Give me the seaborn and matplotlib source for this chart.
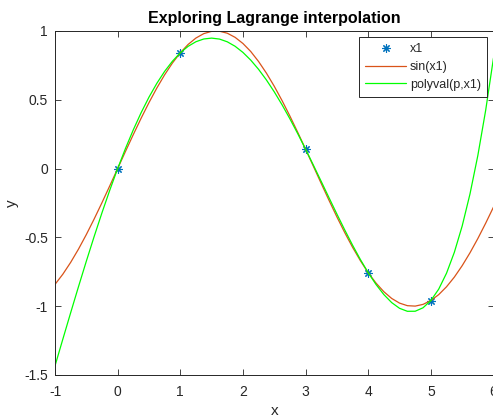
import numpy as np
import pandas as pd
import seaborn as sns
import matplotlib.pyplot as plt

# interpolation nodes and their values
x1 = [0, 1, 3, 4, 5]
y1 = [0.0, 0.8415, 0.1411, -0.7568, -0.9589]

# curve samples (step 0.125 from -1 to 6)
xs = [-1.0, -0.875, -0.75, -0.625, -0.5, -0.375, -0.25, -0.125,
      0.0, 0.125, 0.25, 0.375, 0.5, 0.625, 0.75, 0.875,
      1.0, 1.125, 1.25, 1.375, 1.5, 1.625, 1.75, 1.875,
      2.0, 2.125, 2.25, 2.375, 2.5, 2.625, 2.75, 2.875,
      3.0, 3.125, 3.25, 3.375, 3.5, 3.625, 3.75, 3.875,
      4.0, 4.125, 4.25, 4.375, 4.5, 4.625, 4.75, 4.875,
      5.0, 5.125, 5.25, 5.375, 5.5, 5.625, 5.75, 5.875, 6.0]
sin_vals = [-0.8415, -0.7675, -0.6816, -0.5851, -0.4794, -0.3663, -0.2474, -0.1247,
            0.0, 0.1247, 0.2474, 0.3663, 0.4794, 0.5851, 0.6816, 0.7675,
            0.8415, 0.9023, 0.9490, 0.9809, 0.9975, 0.9985, 0.9840, 0.9539,
            0.9093, 0.8509, 0.7781, 0.6937, 0.5985, 0.4939, 0.3817, 0.2634,
            0.1411, 0.0166, -0.1082, -0.2313, -0.3508, -0.4648, -0.5716, -0.6692,
            -0.7568, -0.8323, -0.8950, -0.9437, -0.9775, -0.9962, -0.9993, -0.9868,
            -0.9589, -0.9160, -0.8589, -0.7885, -0.7055, -0.6116, -0.5083, -0.3969,
            -0.2794]
poly_vals = [-1.4335, -1.2397, -1.0474, -0.8580, -0.6730, -0.4935, -0.3208, -0.1560,
             0.0, 0.1463, 0.2820, 0.4064, 0.5190, 0.6192, 0.7066, 0.7807,
             0.8415, 0.8886, 0.9221, 0.9420, 0.9483, 0.9414, 0.9215, 0.8890,
             0.8444, 0.7882, 0.7212, 0.6442, 0.5579, 0.4634, 0.3616, 0.2538,
             0.1411, 0.0249, -0.0934, -0.2123, -0.3303, -0.4455, -0.5563, -0.6607,
             -0.7568, -0.8425, -0.9157, -0.9740, -1.0153, -1.0370, -1.0366, -1.0115,
             -0.9589, -0.8762, -0.7603, -0.6083, -0.4172, -0.1836, 0.0953, 0.4236,
             0.8042]

legend_labels = ["x1", "sin(x1)", "polyval(p,x1)"]

sns.set_style("ticks")
plt.rcParams["font.family"] = ["Liberation Sans", "DejaVu Sans"]
plt.rcParams["axes.unicode_minus"] = False
dark = "#262626"

fig = plt.figure(figsize=(4.93, 4.15), dpi=100)
ax = fig.add_axes([55 / 493, 40 / 415, 438.5 / 493, 344 / 415])

pts = pd.DataFrame({"x": x1, "y": y1})
curves = pd.DataFrame({"x": xs, "sin": sin_vals, "poly": poly_vals})

sns.lineplot(data=pts, x="x", y="y", ax=ax, linestyle="none", marker=(8, 2, 0),
             markersize=6, markeredgewidth=0.8, color="#0072BD", mec="#0072BD",
             label=legend_labels[0], sort=False, estimator=None)
sns.lineplot(data=curves, x="x", y="sin", ax=ax, color="#D95319", linewidth=0.9,
             label=legend_labels[1], sort=False, estimator=None)
sns.lineplot(data=curves, x="x", y="poly", ax=ax, color="#00FF00", linewidth=0.9,
             label=legend_labels[2], sort=False, estimator=None)

ax.set_xlim(-1, 6)
ax.set_ylim(-1.5, 1)
ax.set_xticks(range(-1, 7))
ax.set_yticks([-1.5, -1, -0.5, 0, 0.5, 1])
ax.set_yticklabels(["-1.5", "-1", "-0.5", "0", "0.5", "1"])
ax.tick_params(direction="in", length=4, width=0.6, colors=dark, labelsize=10,
               top=True, right=True)
ax.tick_params(axis="x", pad=7)
ax.tick_params(axis="y", pad=5)
for s in ax.spines.values():
    s.set_visible(True)
    s.set_color(dark)
    s.set_linewidth(0.7)

ax.set_title("Exploring Lagrange interpolation", fontsize=11.5, fontweight="bold",
             color="black", pad=6)
ax.set_xlabel("x", fontsize=11, color=dark, labelpad=4)
ax.set_ylabel("y", fontsize=11, color=dark, labelpad=4)

leg = ax.legend(loc="upper right", fontsize=9, frameon=True, fancybox=False,
                edgecolor=dark, framealpha=1, borderaxespad=0.5,
                handlelength=3.3, handletextpad=0.3, labelspacing=0.45,
                borderpad=0.5)
leg.get_frame().set_linewidth(0.7)

fig.savefig("out.png", dpi=100)
